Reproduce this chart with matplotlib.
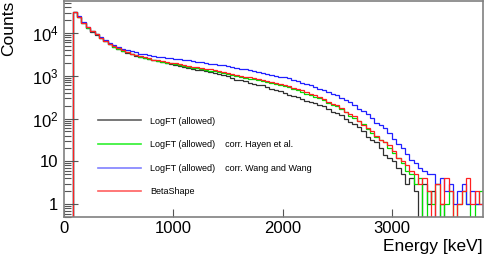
import numpy as np
import matplotlib
matplotlib.use("Agg")
import matplotlib.pyplot as plt
from matplotlib.ticker import FixedLocator, FuncFormatter, NullFormatter
from matplotlib.lines import Line2D

plt.rcParams['font.family'] = ['Liberation Sans', 'DejaVu Sans']
plt.rcParams['mathtext.fontset'] = 'custom'
plt.rcParams['mathtext.rm'] = 'Liberation Sans'
plt.rcParams['mathtext.it'] = 'Liberation Sans:italic'

# Energy bin edges (keV), 40 keV bins
energy_edges = np.arange(0, 3841, 40)

counts_logft = [0, 0, 31600, 23800, 17200, 13300, 10800, 9150, 7700, 6450,
                5420, 4770, 4240, 3850, 3470, 3190, 2970, 2760, 2570, 2420,
                2280, 2170, 2060, 1970, 1900, 1810, 1720, 1630, 1560, 1460,
                1400, 1340, 1270, 1210, 1170, 1080, 1030, 970, 880, 810,
                780, 760, 690, 640, 620, 600, 540, 480, 470, 445,
                400, 360, 340, 320, 290, 255, 245, 232, 205, 192,
                165, 140, 132, 120, 100, 82, 73, 63, 50, 38,
                32, 29, 20, 14, 12, 10, 7, 5, 3, 4,
                2, 0, 3, 1, 2, 0, 1, 0, 0, 0,
                0, 0, 0, 0, 0, 0]

counts_hayen = [0, 0, 31600, 23900, 17300, 13400, 10900, 9250, 7780, 6540,
                5490, 4820, 4290, 3900, 3510, 3230, 3010, 2800, 2610, 2460,
                2320, 2210, 2100, 2010, 1940, 1850, 1760, 1690, 1620, 1540,
                1490, 1430, 1390, 1320, 1280, 1220, 1160, 1100, 1060, 985,
                940, 880, 855, 825, 790, 760, 715, 680, 640, 605,
                565, 540, 495, 455, 420, 380, 358, 326, 298, 275,
                236, 212, 195, 163, 140, 116, 102, 86, 74, 58,
                47, 37, 32, 28, 20, 16, 12, 9, 6, 5,
                3, 4, 0, 2, 1, 3, 0, 1, 2, 0,
                1, 2, 1, 0, 1, 2]

counts_wang = [0, 0, 31600, 24500, 17800, 13800, 11200, 9550, 8130, 6920,
               5960, 5250, 4730, 4310, 3980, 3720, 3510, 3310, 3160, 3020,
               2920, 2820, 2720, 2660, 2570, 2510, 2430, 2340, 2290, 2210,
               2140, 2070, 2000, 1930, 1860, 1800, 1740, 1680, 1600, 1550,
               1480, 1410, 1350, 1290, 1230, 1175, 1120, 1060, 1000, 955,
               912, 871, 813, 741, 692, 646, 620, 550, 490, 457,
               425, 380, 347, 300, 275, 250, 209, 170, 148, 128,
               102, 80, 71, 60, 45, 33, 26, 20, 15, 11,
               9, 7, 6, 5, 5, 3, 4, 2, 3, 1,
               2, 3, 1, 2, 1, 1]

counts_betashape = [0, 0, 31600, 24000, 17400, 13500, 11000, 9330, 7850, 6610,
                    5560, 4900, 4370, 3980, 3590, 3310, 3090, 2880, 2690, 2540,
                    2400, 2290, 2190, 2110, 2040, 1950, 1860, 1780, 1720, 1640,
                    1580, 1530, 1480, 1410, 1360, 1300, 1240, 1175, 1130, 1047,
                    985, 955, 925, 881, 830, 803, 770, 724, 670, 646,
                    615, 562, 510, 484, 460, 412, 370, 347, 325, 285,
                    245, 224, 207, 172, 142, 126, 112, 89, 69, 59,
                    51, 40, 31, 28, 24, 17, 12, 10, 8, 6,
                    5, 3, 4, 2, 0, 3, 1, 4, 2, 0,
                    1, 2, 4, 1, 2, 1]

series_labels = ["LogFT (allowed)",
                 "LogFT (allowed)    corr. Hayen et al.",
                 "LogFT (allowed)    corr. Wang and Wang",
                 "BetaShape"]
series_colors = ["#303030", "#00e000", "#2020ff", "#ff2020"]
legend_colors = ["#606060", "#30f030", "#8080ff", "#ff6060"]

fig = plt.figure(figsize=(4.84, 2.56), dpi=100)
ax = fig.add_axes([64/484, 1-217/256, (483-64)/484, 216/256])

for vals, col in zip([counts_logft, counts_hayen, counts_wang, counts_betashape], series_colors):
    v = np.asarray(vals, dtype=float)
    v = np.where(v > 0, v, 1e-3)
    ax.stairs(v, energy_edges, color=col, lw=0.9, baseline=None)

ax.set_yscale('log')
ax.set_xlim(0, 3835)
ax.set_ylim(0.5, 56000)

ax.xaxis.set_major_locator(FixedLocator([0, 1000, 2000, 3000]))
ax.xaxis.set_minor_locator(FixedLocator([]))
ax.yaxis.set_major_locator(FixedLocator([1, 10, 100, 1000, 10000]))
minors = [m * 10**e for e in range(-1, 5) for m in range(2, 10)]
ax.yaxis.set_minor_locator(FixedLocator(minors))
ax.yaxis.set_minor_formatter(NullFormatter())

def yfmt(v, pos):
    e = int(round(np.log10(v)))
    if e == 0:
        return "1"
    if e == 1:
        return "10"
    return r"$\mathregular{10^{%d}}$" % e
ax.yaxis.set_major_formatter(FuncFormatter(yfmt))

ax.tick_params(axis='both', which='both', direction='in', color='#555555',
               labelsize=12, labelcolor='black')
ax.tick_params(axis='y', which='major', length=10, width=0.8, pad=4)
ax.tick_params(axis='y', which='minor', length=5, width=0.8)
ax.tick_params(axis='x', which='major', length=6, width=0.8, pad=3)

for s in ax.spines.values():
    s.set_color('#808080')
    s.set_linewidth(1.2)

fig.text(9/484, 1-1/256, 'Counts', rotation=90, ha='center', va='top', fontsize=12.5)
fig.text(483/484, 1-246.5/256, 'Energy [keV]', ha='right', va='center', fontsize=12.5)

handles = [Line2D([], [], color=c, lw=1.2) for c in legend_colors]
ax.legend(handles, series_labels, loc='upper left',
          bbox_to_anchor=(98/484, 1-116.5/256), bbox_transform=fig.transFigure,
          frameon=False, fontsize=6.5, handlelength=4.8, handletextpad=1.0,
          labelspacing=1.62, borderpad=0, borderaxespad=0)

fig.savefig('out.png', dpi=100)
